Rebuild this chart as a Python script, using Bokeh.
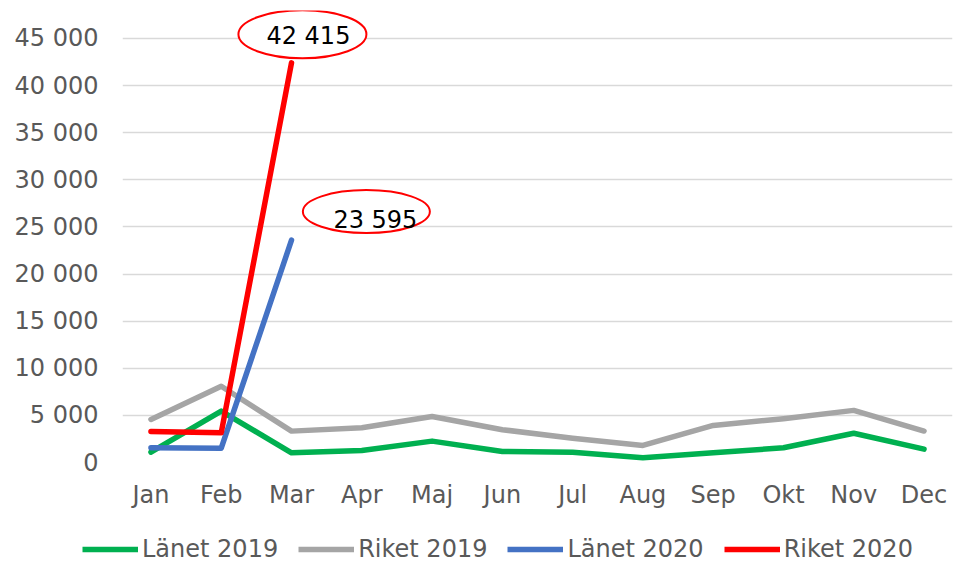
from bokeh.plotting import figure
from bokeh.models import Range1d, FactorRange, FixedTicker, Legend, LegendItem, ColumnDataSource
from bokeh.transform import dodge
from bokeh.core.properties import value
from bokeh.embed import file_html
from bokeh.resources import INLINE

months = ["Jan", "Feb", "Mar", "Apr", "Maj", "Jun", "Jul", "Aug", "Sep", "Okt", "Nov", "Dec"]
lanet_2019 = [1100, 5450, 1030, 1280, 2270, 1170, 1100, 500, 1030, 1560, 3100, 1420]
riket_2019 = [4570, 8090, 3330, 3690, 4890, 3480, 2580, 1810, 3930, 4650, 5530, 3340]
lanet_2020 = [1560, 1520, 23595]
riket_2020 = [3300, 3160, 42415]
months_2020 = months[:3]

series_names = ["Länet 2019", "Riket 2019", "Länet 2020", "Riket 2020"]
series_colors = ["#00B050", "#A5A5A5", "#4472C4", "#FF0000"]

y_ticks = [0, 5000, 10000, 15000, 20000, 25000, 30000, 35000, 40000, 45000]
y_tick_labels = ["0", "5 000", "10 000", "15 000", "20 000", "25 000", "30 000", "35 000", "40 000", "45 000"]

FONT = "DejaVu Sans"
TXT = "#595959"
FS = "24px"

p = figure(width=953, height=520,
           x_range=FactorRange(*months, range_padding=-0.095, range_padding_units="absolute"),
           y_range=Range1d(0, 47970), output_backend="svg", toolbar_location=None,
           min_border_left=122, min_border_right=1, min_border_top=10, min_border_bottom=58)
p.outline_line_color = None
p.background_fill_color = "white"
p.border_fill_color = "white"

p.xgrid.grid_line_color = None
p.ygrid.grid_line_color = "#D9D9D9"
p.ygrid.grid_line_width = 1.5
p.yaxis.ticker = FixedTicker(ticks=y_ticks)
p.yaxis.major_label_overrides = {t: l for t, l in zip(y_ticks, y_tick_labels)}

for ax in (p.xaxis[0], p.yaxis[0]):
    ax.axis_line_color = None
    ax.major_tick_line_color = None
    ax.minor_tick_line_color = None
    ax.major_label_text_font = FONT
    ax.major_label_text_font_size = FS
    ax.major_label_text_color = TXT
p.yaxis.major_label_standoff = 18
p.xaxis.major_label_standoff = 12

lw = 5.5
data = [(months, lanet_2019), (months, riket_2019), (months_2020, lanet_2020), (months_2020, riket_2020)]
for (xs, ys), c in zip(data, series_colors):
    p.line(xs, ys, line_color=c, line_width=lw, line_join="round", line_cap="round")

# callouts for the March 2020 values (ellipse sits ~28 px above the point)
call_vals = [riket_2020[2], lanet_2020[2]]
call_txt = [f"{v:,}".replace(",", " ") for v in call_vals]
call_dx = [0.155, 1.065]
call_w = [128, 127]
call_h = [48, 43]
call_txt_off = [(6, 2), (9, 8)]
for i in range(2):
    src = ColumnDataSource(dict(x=[months_2020[2]], y=[call_vals[i] + 3035], w=[call_w[i]], h=[call_h[i]],
                                txt=[call_txt[i]]))
    xx = dodge("x", call_dx[i], range=p.x_range)
    p.ellipse(x=xx, y="y", width="w", height="h", width_units="screen", height_units="screen",
              source=src, fill_color="white", line_color="#FF0000", line_width=2)
    p.text(x=xx, y="y", text="txt", source=src, x_offset=call_txt_off[i][0], y_offset=call_txt_off[i][1],
           text_align="center", text_baseline="middle", text_font=value(FONT),
           text_font_size=FS, text_color="black")

# legend strip below the chart (separate root so its frame is not aligned to the chart's)
lg = figure(width=953, height=46, x_range=Range1d(0, 1), y_range=Range1d(0, 1),
            output_backend="svg", toolbar_location=None, x_axis_type=None, y_axis_type=None,
            min_border_left=0, min_border_right=0, min_border_top=0, min_border_bottom=0)
lg.outline_line_color = None
lg.xgrid.grid_line_color = None
lg.ygrid.grid_line_color = None
items = []
for name, c in zip(series_names, series_colors):
    r = lg.line(x=[0], y=[0], line_color=c, line_width=lw)  # single point: draws nothing, only feeds the legend
    items.append(LegendItem(label=name, renderers=[r]))
legend = Legend(items=items, orientation="horizontal", location=(82, 3),
                label_text_font=FONT, label_text_font_size=FS, label_text_color=TXT,
                glyph_width=56, glyph_height=20, label_standoff=4, spacing=20,
                padding=0, margin=0, border_line_color=None, background_fill_alpha=0)
lg.add_layout(legend)

open("out.html", "w").write(file_html([p, lg], INLINE))
